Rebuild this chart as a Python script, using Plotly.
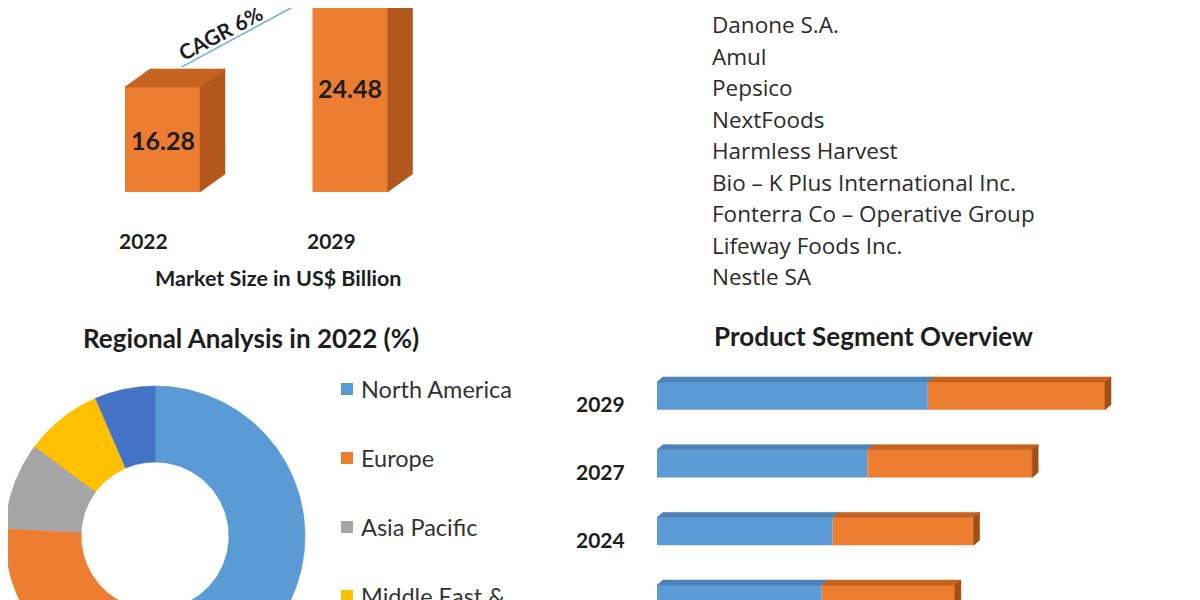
import numpy as np
import plotly.graph_objects as go

W, H = 1200, 600

# ---------------- data ----------------
market_years = ["2022", "2029"]
market_values = [16.28, 24.48]
cagr_text = "CAGR 6%"
market_caption = "Market Size in US$ Billion"

companies = [
    "Danone S.A.",
    "Amul",
    "Pepsico",
    "NextFoods",
    "Harmless Harvest",
    "Bio – K Plus International Inc.",
    "Fonterra Co – Operative Group",
    "Lifeway Foods Inc.",
    "Nestle SA",
]

region_title = "Regional Analysis in 2022 (%)"
regions = ["North America", "Europe", "Asia Pacific", "Middle East &<br>Africa", "South America"]
region_share = [57.0, 18.8, 9.4, 8.3, 6.5]

segment_title = "Product Segment Overview"
segment_years = ["2022", "2024", "2027", "2029"]
segment_a = [9.0, 9.6, 11.5, 14.8]
segment_b = [7.28, 7.7, 9.0, 9.68]

# ---------------- styles ----------------
BLUE, ORANGE, GREY, GOLD, DBLUE = "#5B9BD5", "#ED7D31", "#A5A5A5", "#FFC000", "#4472C4"
region_colors = [BLUE, ORANGE, GREY, GOLD, DBLUE]
TXT = "#1E1E1E"
FONT = "Lato"
OFF = 8  # page body margin in the browser


def px(xp):
    return (xp - OFF) / W


def py(yp):
    return 1 - (yp - OFF) / H


def ref_x(paper):
    return OFF + paper * W


def ref_y(paper):
    return OFF + (1 - paper) * H


fig = go.Figure()


def poly(xs, ys, color, xa, ya):
    fig.add_trace(go.Scatter(x=xs, y=ys, fill="toself", fillcolor=color, mode="lines",
                             line=dict(width=0.6, color=color), xaxis=xa, yaxis=ya,
                             showlegend=False, hoverinfo="skip"))


# ---------------- panel 1: market size 3D columns ----------------
FLOOR = 8.0
K1y = 12.68          # px per unit (vertical)
K1x = 187.5          # px per category step
X0_1, BASE_1 = 162.5, 192
bar_w = 0.4
dx1, dy1 = 25 / K1x, 18 / K1y
xs1 = np.arange(len(market_years))
fig.add_trace(go.Bar(x=xs1, y=market_values, width=bar_w, marker=dict(color=ORANGE, line=dict(width=0)),
                     xaxis="x", yaxis="y", showlegend=False, hoverinfo="skip"))
for c, v in zip(xs1, market_values):
    l, r = c - bar_w / 2, c + bar_w / 2
    poly([r, r + dx1, r + dx1, r, r], [FLOOR, FLOOR + dy1, v + dy1, v, FLOOR], "#B2581C", "x", "y")
    poly([l, l + dx1, r + dx1, r, l], [v, v + dy1, v + dy1, v, v], "#C5631F", "x", "y")

ann = []
for c, v, yr in zip(xs1, market_values, market_years):
    ann.append(dict(x=c, y=(FLOOR + v) / 2, xref="x", yref="y", text=f"{v:.2f}", showarrow=False,
                    xanchor="center", yanchor="middle",
                    font=dict(family=FONT, size=25, color=TXT, weight="bold")))
    ann.append(dict(x=c - 0.1, y=py(240), xref="x", yref="paper", text=yr, showarrow=False,
                    xanchor="center", yanchor="middle",
                    font=dict(family=FONT, size=21, color=TXT, weight="bold")))
ann.append(dict(x=px(278), y=py(278), xref="paper", yref="paper", text=market_caption, showarrow=False,
                xanchor="center", yanchor="middle",
                font=dict(family=FONT, size=21.5, color=TXT, weight="bold")))
# CAGR arrow
ann.append(dict(x=xs1[1] - 0.24, y=FLOOR + (BASE_1 - OFF) / K1y + 0.6, ax=xs1[0] + 0.093, ay=market_values[0] + 1.5,
                xref="x", yref="y", axref="x", ayref="y", text="", showarrow=True,
                arrowhead=2, arrowsize=1, arrowwidth=1.5, arrowcolor="#72ACDF"))
ann.append(dict(x=px(220), y=py(33), xref="paper", yref="paper", text=cagr_text, textangle=-28,
                xanchor="center", yanchor="middle",
                showarrow=False, font=dict(family=FONT, size=21, color=TXT, weight="bold")))

# ---------------- company list ----------------
for i, name in enumerate(companies):
    ann.append(dict(x=px(710), y=py(25 + 31.5 * i), xref="paper", yref="paper", text=name,
                    xanchor="left", yanchor="middle", showarrow=False,
                    font=dict(family="Open Sans", size=22.5, color="#2B2B2B")))

# ---------------- panel 2: regional donut ----------------
R_OUT, R_IN = 1.0, 0.493
CX, CY, RPX = 155, 536, 150
cum = np.concatenate([[0], np.cumsum(region_share)]) / sum(region_share) * 360
for i, (a0, a1) in enumerate(zip(cum[:-1], cum[1:])):
    t = np.radians(np.linspace(a0, a1, 120))
    xo, yo = R_OUT * np.sin(t), R_OUT * np.cos(t)
    xi, yi = R_IN * np.sin(t[::-1]), R_IN * np.cos(t[::-1])
    poly(np.concatenate([xo, xi, xo[:1]]), np.concatenate([yo, yi, yo[:1]]), region_colors[i], "x2", "y2")

ann.append(dict(x=px(251), y=py(338), xref="paper", yref="paper", text=region_title, showarrow=False,
                xanchor="center", yanchor="middle",
                font=dict(family=FONT, size=26, color=TXT, weight="bold")))
shapes = []
for i, name in enumerate(regions):
    yc = 389 + 69 * i
    if yc > 640:
        continue
    shapes.append(dict(type="rect", xref="paper", yref="paper", x0=px(341), x1=px(353),
                       y0=py(yc + 6), y1=py(yc - 6), fillcolor=region_colors[i], line=dict(width=0)))
    ann.append(dict(x=px(359), y=py(yc - 16), xref="paper", yref="paper", text=name, xanchor="left",
                    yanchor="top", align="left", showarrow=False,
                    font=dict(family=FONT, size=23.5, color="#333333")))

# ---------------- panel 3: product segment bars ----------------
K3x, K3y = 18.3, 67.7
X0_3, C0_3 = 657, 599
bw3 = 0.41
dx3, dy3 = 6 / K3x, 5 / K3y
idx = np.arange(len(segment_years))
fig.add_trace(go.Bar(y=idx, x=segment_a, orientation="h", width=bw3, marker=dict(color=BLUE, line=dict(width=0)),
                     xaxis="x3", yaxis="y3", showlegend=False, hoverinfo="skip"))
fig.add_trace(go.Bar(y=idx, x=segment_b, base=segment_a, orientation="h", width=bw3,
                     marker=dict(color=ORANGE, line=dict(width=0)),
                     xaxis="x3", yaxis="y3", showlegend=False, hoverinfo="skip"))
for k, a, b in zip(idx, segment_a, segment_b):
    top = k + bw3 / 2
    bot = k - bw3 / 2
    for x0, x1, col in [(0, a, "#4C82B8"), (a, a + b, "#C5621F")]:
        poly([x0, x0 + dx3, x1 + dx3, x1, x0], [top, top + dy3, top + dy3, top, top], col, "x3", "y3")
    e = a + b
    poly([e, e + dx3, e + dx3, e, e], [bot, bot + dy3, top + dy3, top, bot], "#A24F16", "x3", "y3")
    ann.append(dict(x=px(627), y=k, xref="paper", yref="y3", text=segment_years[k], xanchor="right",
                    yanchor="middle", yshift=-8, showarrow=False,
                    font=dict(family=FONT, size=21, color=TXT, weight="bold")))

ann.append(dict(x=px(873), y=py(336), xref="paper", yref="paper", text=segment_title, showarrow=False,
                xanchor="center", yanchor="middle",
                font=dict(family=FONT, size=26, color=TXT, weight="bold")))

# ---------------- axes (ranges follow the page geometry) ----------------
d1x, d1y = [0, 0.5], [py(BASE_1), 1]
d2x, d2y = [0, px(330)], [0, py(380)]
d3x, d3y = [px(X0_3), 1], [0, py(360)]

hidden = dict(visible=False, showgrid=False, zeroline=False, fixedrange=True)
fig.update_layout(
    width=W, height=H, margin=dict(l=0, r=0, t=0, b=0),
    paper_bgcolor="white", plot_bgcolor="rgba(0,0,0,0)", showlegend=False,
    barmode="overlay",
    xaxis=dict(domain=d1x, range=[(ref_x(d) - X0_1) / K1x for d in d1x], anchor="y", **hidden),
    yaxis=dict(domain=d1y, range=[FLOOR + (BASE_1 - ref_y(d)) / K1y for d in d1y], anchor="x", **hidden),
    xaxis2=dict(domain=d2x, range=[(ref_x(d) - CX) / RPX for d in d2x], anchor="y2", **hidden),
    yaxis2=dict(domain=d2y, range=[(CY - ref_y(d)) / RPX for d in d2y], anchor="x2", **hidden),
    xaxis3=dict(domain=d3x, range=[(ref_x(d) - X0_3) / K3x for d in d3x], anchor="y3", **hidden),
    yaxis3=dict(domain=d3y, range=[(C0_3 - ref_y(d)) / K3y for d in d3y], anchor="x3", **hidden),
    annotations=ann, shapes=shapes,
)

fig.write_html("out.html")
